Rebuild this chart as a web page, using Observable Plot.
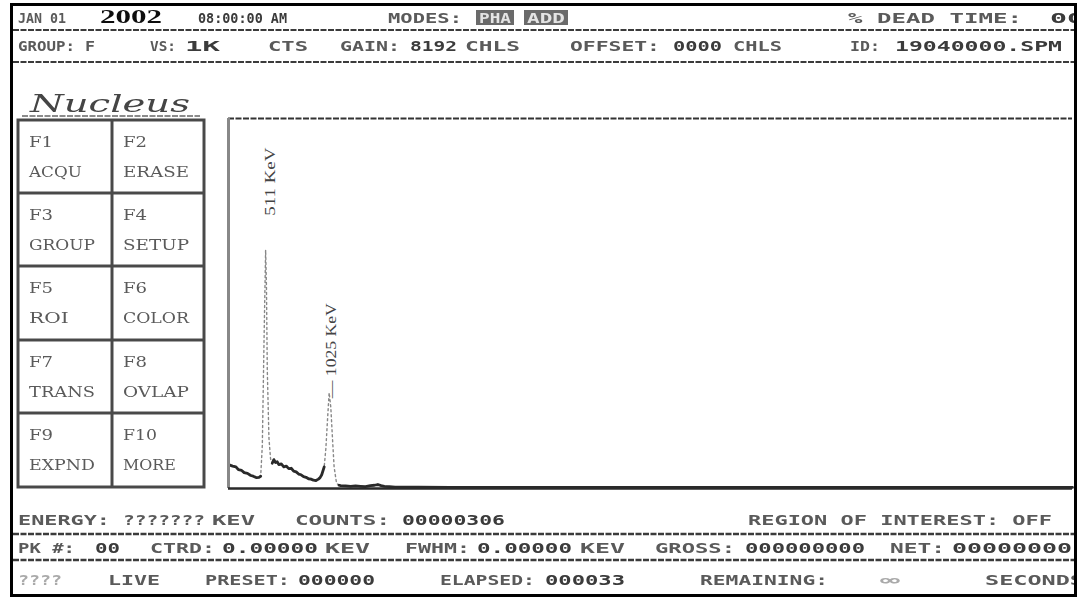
<!DOCTYPE html>
<html><head><meta charset="utf-8">
<script src="https://cdn.jsdelivr.net/npm/d3@7"></script>
<script src="https://cdn.jsdelivr.net/npm/@observablehq/plot@0.6"></script>
<style>
body{margin:0;background:#fff;}
#wrap{position:relative;width:1080px;height:598px;overflow:hidden;background:#fff;}
#bg{position:absolute;left:0;top:0;}
#chart{position:absolute;left:226px;top:116px;}
</style></head><body>
<div id="wrap"><svg id="bg" width="1080" height="598"></svg><div id="chart"></div></div>
<script>
// ---- spectrum data (channel, counts) ----
const channel = [0,5,9,12,16,19,23,27,30,34,37,39,
  41,43,45,46,47,49,51,
  53,55,57,59,61,64,67,70,73,76,79,82,85,88,91,94,97,100,103,106,109,111,113,116,
  118,120,122,124,126,128,131,
  134,136,142,148,154,160,166,172,177,181,185,189,195,202,230,269,330,451,560,693,850,1023];
const counts = [66,62,60,52,50,44,42,36,34,30,31,34,
  120,400,660,560,330,140,82,
  70,80,72,74,66,68,60,62,55,56,48,46,40,38,33,31,27,26,23,22,26,30,38,60,
  110,190,265,225,140,60,14,
  9,8,7,6,7,6,5,8,9,11,8,6,5,4,4,3,3,3,3,3,3,3];
const peakLabels = ["511 KeV", "\u2014 1025 KeV"];
const peakLabelChannel = [51, 124];
const peakLabelCount = [755, 250];
const peakWindows = [[39, 53], [116, 134]];

// ---- screen texts ----
const row1 = [["JAN 01",18,66,"lab"],["2002",100,162,"big"],["08:00:00 AM",198,287,"val"],["MODES:",388,462,"lab"],["% DEAD TIME:",848,1022,"lab"],["00",1050,1084,"val"]];
const modes = [["PHA",476,514],["ADD",524,568]];
const row2 = [["GROUP:",18,75,"lab"],["F",85,95,"lab"],["VS:",150,176,"lab"],["1K",185,220,"val"],["CTS",268,308,"lab"],["GAIN:",340,400,"lab"],["8192",410,457,"val"],["CHLS",465,520,"lab"],["OFFSET:",570,660,"lab"],["0000",673,722,"val"],["CHLS",733,782,"lab"],["ID:",850,880,"lab"],["19040000.SPM",895,1062,"val"]];
const row3 = [["ENERGY:",18,110,"lab"],["???????",123,205,"lab"],["KEV",212,255,"lab"],["COUNTS:",295,390,"lab"],["00000306",402,505,"val"],["REGION OF INTEREST: OFF",748,1052,"lab"]];
const row4 = [["PK #:",18,75,"lab"],["00",95,120,"val"],["CTRD:",150,215,"lab"],["0.00000",222,318,"val"],["KEV",325,370,"lab"],["FWHM:",405,470,"lab"],["0.00000",477,572,"val"],["KEV",580,625,"lab"],["GROSS:",655,735,"lab"],["000000000",745,865,"val"],["NET:",890,945,"lab"],["00000000",952,1072,"val"]];
const row5 = [["????",18,62,"faint"],["LIVE",108,160,"lab"],["PRESET:",205,290,"lab"],["000000",298,375,"val"],["ELAPSED:",440,535,"lab"],["000033",545,625,"val"],["REMAINING:",700,828,"lab"],["\u221E",880,900,"faint"],["SECONDS",985,1084,"lab"]];
const fkeys = [["F1","ACQU"],["F2","ERASE"],["F3","GROUP"],["F4","SETUP"],["F5","ROI"],["F6","COLOR"],["F7","TRANS"],["F8","OVLAP"],["F9","EXPND"],["F10","MORE"]];

// ---- background screen ----
const bg = d3.select("#bg");
const defs = bg.append("defs");
defs.append("filter").attr("id","soft").append("feGaussianBlur").attr("stdDeviation",0.45);
defs.append("clipPath").attr("id","inner").append("rect").attr("x",13).attr("y",6).attr("width",1061).attr("height",588);
const g = bg.append("g").attr("clip-path","url(#inner)").append("g").attr("filter","url(#soft)");
const styles = {
  lab:{fill:"#5a5a5a",size:14,weight:"bold",family:"DejaVu Sans Mono"},
  val:{fill:"#3a3a3a",size:14,weight:"bold",family:"DejaVu Sans Mono"},
  faint:{fill:"#aaaaaa",size:14,weight:"bold",family:"DejaVu Sans Mono"},
  big:{fill:"#111",size:19,weight:"bold",family:"Liberation Serif"},
  fk:{fill:"#5a5a5a",size:15,weight:"normal",family:"DejaVu Serif"}
};
function txt(s,x0,x1,y,st){
  const o = styles[st];
  g.append("text").attr("x",x0).attr("y",y).attr("textLength",x1-x0).attr("lengthAdjust","spacingAndGlyphs")
   .attr("font-family",o.family).attr("font-size",o.size).attr("font-weight",o.weight).attr("fill",o.fill).text(s);
}
function hline(y,x0,x1,w,c){ g.append("line").attr("x1",x0).attr("x2",x1).attr("y1",y).attr("y2",y).attr("stroke",c||"#3a3a3a").attr("stroke-width",w||2).attr("stroke-dasharray","6,1.5"); }
row1.forEach(d=>txt(d[0],d[1],d[2],23,d[3]));
modes.forEach(d=>{
  g.append("rect").attr("x",d[1]).attr("y",10).attr("width",d[2]-d[1]).attr("height",15).attr("fill","#6a6a6a");
  g.append("text").attr("x",d[1]+3).attr("y",23).attr("textLength",d[2]-d[1]-6).attr("lengthAdjust","spacingAndGlyphs")
   .attr("font-family","DejaVu Sans Mono").attr("font-weight","bold").attr("font-size",14).attr("fill","#e4e4e4").text(d[0]);
});
hline(30,13,1074,2);
row2.forEach(d=>txt(d[0],d[1],d[2],51,d[3]));
hline(62,13,1074,2);
// logo
g.append("text").attr("x",30).attr("y",112).attr("textLength",160).attr("lengthAdjust","spacingAndGlyphs")
 .attr("font-family","DejaVu Serif").attr("font-style","italic").attr("font-size",24).attr("fill","#444").text("Nucleus");
hline(116,22,200,1.5,"#666");
// function key box
const bx0=18, bx1=204, bmid=112, rowsY=[120,193,266,340,413,487];
g.append("rect").attr("x",bx0).attr("y",rowsY[0]).attr("width",bx1-bx0).attr("height",rowsY[5]-rowsY[0]).attr("fill","none").attr("stroke","#4a4a4a").attr("stroke-width",3);
g.append("line").attr("x1",bmid).attr("x2",bmid).attr("y1",rowsY[0]).attr("y2",rowsY[5]).attr("stroke","#4a4a4a").attr("stroke-width",3);
for(let i=1;i<5;i++) g.append("line").attr("x1",bx0).attr("x2",bx1).attr("y1",rowsY[i]).attr("y2",rowsY[i]).attr("stroke","#4a4a4a").attr("stroke-width",3);
fkeys.forEach((k,i)=>{
  const r=Math.floor(i/2), c=i%2, x=c?123:29, top=rowsY[r];
  txt(k[0],x,x+(k[0].length>2?34:24),top+27,"fk");
  txt(k[1],x,x+k[1].length*13.2,top+57,"fk");
});
row3.forEach(d=>txt(d[0],d[1],d[2],525,d[3]));
hline(534,13,1074,2.5);
row4.forEach(d=>txt(d[0],d[1],d[2],553,d[3]));
hline(560,13,1074,2.5);
row5.forEach(d=>txt(d[0],d[1],d[2],585,d[3]));
// outer border
bg.append("rect").attr("x",11.5).attr("y",4.5).attr("width",1064).attr("height",591).attr("fill","none").attr("stroke","#000").attr("stroke-width",3);

// ---- spectrum plot ----
const spectrum = channel.map((c,i)=>({ch:c, n:counts[i]}));
const inPeak = d => peakWindows.some(([a,b]) => d.ch > a && d.ch < b);
const part = d => d.ch <= peakWindows[0][0] ? 0 : d.ch <= peakWindows[1][0] ? 1 : 2;
const labels = peakLabels.map((t,i)=>({t, ch:peakLabelChannel[i], n:peakLabelCount[i]}));
const chart = Plot.plot({
  width: 850, height: 374,
  marginLeft: 2, marginRight: 4, marginTop: 2, marginBottom: 2,
  x: {domain: [0, 1023], axis: null},
  y: {domain: [0, 1024], axis: null},
  marks: [
    Plot.ruleY([1024], {stroke: "#333", strokeWidth: 2, strokeDasharray: "6,1.5"}),
    Plot.line(spectrum, {x: "ch", y: "n", stroke: "#888", strokeWidth: 1.4, strokeDasharray: "2,3"}),
    Plot.line(spectrum.filter(d => !inPeak(d)), {x: "ch", y: "n", z: part, stroke: "#2a2a2a", strokeWidth: 2.8}),
    Plot.ruleX([0], {stroke: "#888", strokeWidth: 3}),
    Plot.ruleY([0], {stroke: "#2a2a2a", strokeWidth: 2.5}),
    Plot.text(labels, {x: "ch", y: "n", text: "t", rotate: -90, textAnchor: "start", fontSize: 15, fontFamily: "Liberation Serif", fill: "#444"})
  ]
});
d3.select(chart).selectAll("text").each(function(){
  const t = this.textContent;
  this.setAttribute("textLength", t.startsWith("511") ? 68 : 95);
  this.setAttribute("lengthAdjust", "spacingAndGlyphs");
});
document.getElementById("chart").appendChild(chart);
</script></body></html>
